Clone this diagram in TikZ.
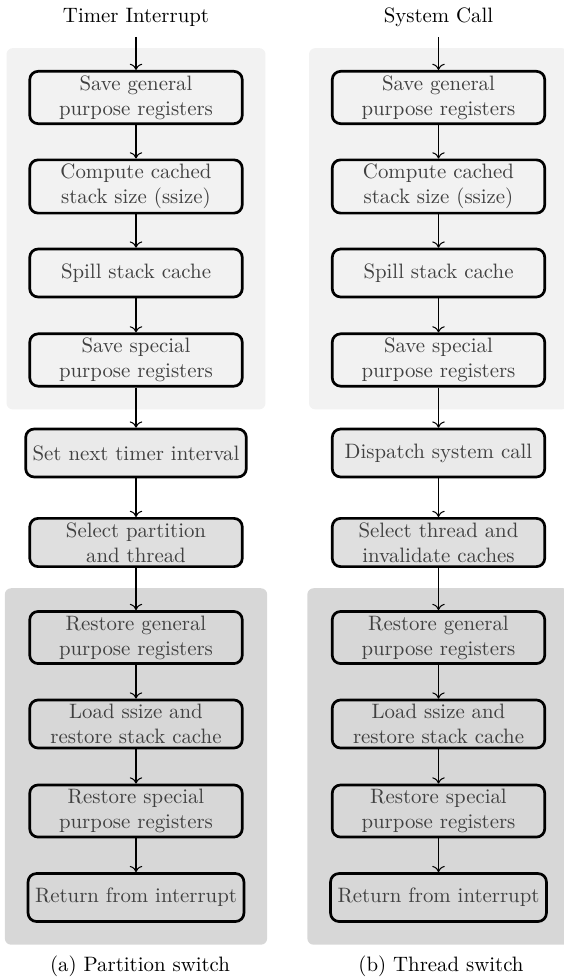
\documentclass[tikz,border=0pt]{standalone}
\usetikzlibrary{arrows.meta,positioning,fit,backgrounds}
\definecolor{pale}{HTML}{F2F2F2}
\definecolor{mid}{HTML}{EAEAEA}
\definecolor{sel}{HTML}{DFDFDF}
\definecolor{deep}{HTML}{D7D7D7}
\definecolor{txt}{HTML}{404040}
\tikzset{
  box/.style={draw=black,line width=1.3pt,rounded corners=4pt,align=center,text=txt,minimum width=102pt,minimum height=23pt,inner ysep=2pt},
  sbox/.style={box,fill=pale},
  mbox/.style={box,fill=mid},
  xbox/.style={box,fill=sel},
  rbox/.style={box,fill=deep},
  ar/.style={-{To[length=3pt,width=6pt]},line width=0.5pt},
  panel/.style={rounded corners=3pt,inner sep=10.5pt},
  head/.style={inner ysep=5pt},
}

\begin{document}
\begin{tikzpicture}[x=0.48pt,y=-0.48pt]
\useasboundingbox (0,0) rectangle (563,980);
% partition switch
\node[head] (ti) at (136,17) {Timer Interrupt};
\node[sbox] (t1) at (136,97.5) {Save general\\purpose registers};
\node[sbox] (t2) at (136,186.5) {Compute cached\\stack size (ssize)};
\node[sbox] (t3) at (136,273) {Spill stack cache};
\node[sbox] (t4) at (136,360) {Save special\\purpose registers};
\node[mbox] (t5) at (136,453) {Set next timer interval};
\node[xbox] (t6) at (136,542.5) {Select partition\\and thread};
\node[rbox] (t7) at (136,637.5) {Restore general\\purpose registers};
\node[rbox] (t8) at (136,724) {Load ssize and\\restore stack cache};
\node[rbox] (t9) at (136,811) {Restore special\\purpose registers};
\node[rbox] (t10) at (136,897.5) {Return from interrupt};
\node (tcap) at (140,966) {(a) Partition switch};
% thread switch
\node[head] (sc) at (438.5,17) {System Call};
\node[sbox] (s1) at (438.5,97.5) {Save general\\purpose registers};
\node[sbox] (s2) at (438.5,186.5) {Compute cached\\stack size (ssize)};
\node[sbox] (s3) at (438.5,273) {Spill stack cache};
\node[sbox] (s4) at (438.5,360) {Save special\\purpose registers};
\node[mbox] (s5) at (438.5,453) {Dispatch system call};
\node[xbox] (s6) at (438.5,542.5) {Select thread and\\invalidate caches};
\node[rbox] (s7) at (438.5,637.5) {Restore general\\purpose registers};
\node[rbox] (s8) at (438.5,724) {Load ssize and\\restore stack cache};
\node[rbox] (s9) at (438.5,811) {Restore special\\purpose registers};
\node[rbox] (s10) at (438.5,897.5) {Return from interrupt};
\node (scap) at (441,966) {(b) Thread switch};
\begin{scope}[on background layer]
\node[panel,fill=pale,fit=(t1)(t4)] (tsave) {};
\node[panel,fill=deep,fit=(t7)(t10)] (trest) {};
\node[panel,fill=pale,fit=(s1)(s4)] (ssave) {};
\node[panel,fill=deep,fit=(s7)(s10)] (srest) {};
\end{scope}
\foreach \a/\b in {ti/t1,t1/t2,t2/t3,t3/t4,t4/t5,t5/t6,t6/t7,t7/t8,t8/t9,t9/t10,
  sc/s1,s1/s2,s2/s3,s3/s4,s4/s5,s5/s6,s6/s7,s7/s8,s8/s9,s9/s10}
  \draw[ar] (\a) -- (\b);
\end{tikzpicture}
\end{document}
